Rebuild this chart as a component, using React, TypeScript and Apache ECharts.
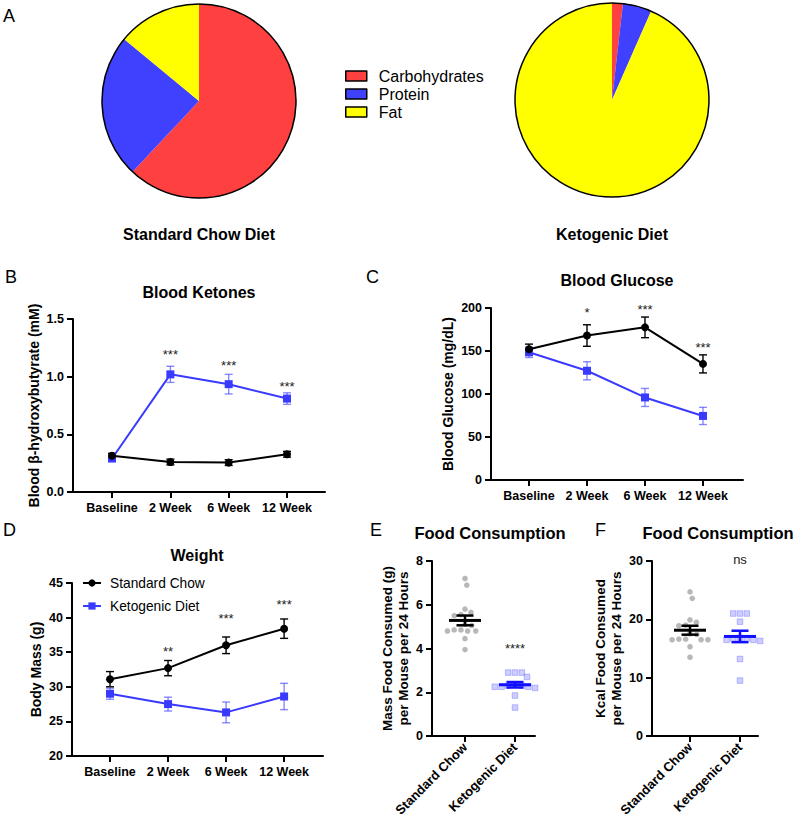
import React, { useEffect, useRef } from 'react';
import * as echarts from 'echarts';

// ---------- DATA ----------
const dietNames = ['Carbohydrates', 'Protein', 'Fat'];
const chowComposition = [62, 24, 14];
const ketoComposition = [1.8, 4.8, 93.4];

const timepoints = ['Baseline', '2 Week', '6 Week', '12 Week'];

const ketonesChowMean = [0.315, 0.26, 0.255, 0.327];
const ketonesChowSem = [0.02, 0.025, 0.025, 0.025];
const ketonesKetoMean = [0.29, 1.02, 0.935, 0.81];
const ketonesKetoSem = [0.02, 0.07, 0.085, 0.05];
const ketonesSig = ['', '***', '***', '***'];
const ketonesSigAt = [0, 1.22, 1.12, 0.945];

const glucoseChowMean = [152, 168, 177.5, 135];
const glucoseChowSem = [6, 12.5, 12, 10.5];
const glucoseKetoMean = [148.5, 127, 96, 74.5];
const glucoseKetoSem = [6, 10.5, 10.5, 10];
const glucoseSig = ['', '*', '***', '***'];
const glucoseSigAt = [0, 197.7, 202, 157];

const weightChowMean = [31.1, 32.7, 36.0, 38.4];
const weightChowSem = [1.1, 1.1, 1.2, 1.4];
const weightKetoMean = [29.0, 27.5, 26.3, 28.6];
const weightKetoSem = [0.8, 1.0, 1.5, 1.9];
const weightSig = ['', '**', '***', '***'];
const weightSigAt = [0, 35.5, 40.3, 42.3];

const dietGroups = ['Standard Chow', 'Ketogenic Diet'];
const massChow = [7.2, 6.9, 5.8, 5.65, 5.55, 5.5, 5.1, 5.05, 4.85, 4.8, 4.8, 4.8, 4.85, 4.45, 3.95];
const massKeto = [2.9, 2.9, 2.9, 2.7, 2.35, 2.3, 2.3, 2.25, 2.25, 2.25, 2.2, 1.85, 1.3];
const massSig = ['', '****'];
const massSigAt = [0, 4.16];
const kcalChow = [24.7, 23.6, 19.9, 19.5, 19.0, 18.9, 17.5, 17.4, 16.6, 16.5, 16.5, 16.5, 16.6, 15.3, 13.5];
const kcalKeto = [21.0, 21.0, 21.0, 19.6, 16.8, 16.7, 16.7, 16.5, 16.5, 16.3, 13.2, 9.5];
const kcalSig = ['', 'ns'];
const kcalSigAt = [0, 30.3];

// ---------- STYLE ----------
const FONT = "'Liberation Sans', Arial, Helvetica, sans-serif";
const BLUE = '#3a3aff';
const BLUE_ERR = 'rgba(58,58,255,0.6)';
const pieColors = ['#ff4040', '#4040ff', '#ffff00'];

const mean = (a: number[]) => a.reduce((s, v) => s + v, 0) / a.length;
const sem = (a: number[]) => {
  const m = mean(a);
  const v = a.reduce((s, x) => s + (x - m) * (x - m), 0) / (a.length - 1);
  return Math.sqrt(v) / Math.sqrt(a.length);
};

function swarm(ys: number[], cx: number, d: number): number[] {
  const order = ys.map((_, i) => i).sort((a, b) => ys[a] - ys[b]);
  const xs: number[] = new Array(ys.length);
  const placed: number[] = [];
  for (const i of order) {
    const y = ys[i];
    const near = placed.filter((j) => Math.abs(ys[j] - y) < d);
    const cands = [cx];
    near.forEach((j) => {
      const dx = Math.sqrt(d * d - (ys[j] - y) * (ys[j] - y));
      cands.push(xs[j] + dx, xs[j] - dx);
    });
    cands.sort((a, b) => Math.abs(a - cx) - Math.abs(b - cx));
    const ok = cands.find((c) => near.every((j) => (xs[j] - c) ** 2 + (ys[j] - y) ** 2 >= d * d - 0.01));
    xs[i] = ok === undefined ? cx : ok;
    placed.push(i);
  }
  return xs;
}

function xAxisCfg(grid: number, min: number, max: number, labels: string[], rotate = 0, fontSize = 12.5) {
  const vals = labels.map((_, i) => i);
  return {
    type: 'value', gridIndex: grid, min, max,
    axisLine: { show: true, onZero: false, lineStyle: { color: '#000', width: 2 } },
    axisTick: { show: true, customValues: vals, length: 6, lineStyle: { color: '#000', width: 2 } },
    axisLabel: {
      show: true, customValues: vals, formatter: (v: number) => labels[Math.round(v)] ?? '',
      color: '#000', fontWeight: 'bold', fontSize, fontFamily: FONT, margin: 9, rotate,
    },
    splitLine: { show: false },
  };
}

function yAxisCfg(grid: number, min: number, max: number, interval: number, name: string, nameGap: number, nameSize: number, decimals = 0) {
  return {
    type: 'value', gridIndex: grid, min, max, interval,
    axisLine: { show: true, onZero: false, lineStyle: { color: '#000', width: 2 } },
    axisTick: { show: true, length: 6, lineStyle: { color: '#000', width: 2 } },
    axisLabel: { color: '#000', fontWeight: 'bold', fontSize: 12.5, fontFamily: FONT, margin: 9, formatter: (v: number) => v.toFixed(decimals) },
    splitLine: { show: false },
    name, nameLocation: 'middle', nameRotate: 90, nameGap,
    nameTextStyle: { color: '#000', fontWeight: 'bold', fontSize: nameSize, fontFamily: FONT, lineHeight: nameSize + 3 },
  };
}

function lineSeries(grid: number, name: string, means: number[], color: string, symbol: string) {
  return {
    type: 'line', name, xAxisIndex: grid, yAxisIndex: grid,
    data: means.map((m, i) => [i, m]), symbol, symbolSize: 8,
    lineStyle: { color, width: 2 }, itemStyle: { color }, z: 4, silent: true,
  };
}

function errSeries(grid: number, tag: string, means: number[], sems: number[], color: string) {
  return {
    type: 'custom', name: tag, xAxisIndex: grid, yAxisIndex: grid, silent: true, z: 3,
    data: means.map((m, i) => [i, m, sems[i]]),
    encode: { x: 0, y: 1 },
    renderItem: (_p: any, api: any) => {
      const x = api.value(0), m = api.value(1), e = api.value(2);
      const t = api.coord([x, m + e]);
      const b = api.coord([x, m - e]);
      const hw = 4;
      const style = { stroke: color, lineWidth: 1.4 };
      return {
        type: 'group', children: [
          { type: 'line', shape: { x1: t[0], y1: t[1], x2: b[0], y2: b[1] }, style },
          { type: 'line', shape: { x1: t[0] - hw, y1: t[1], x2: t[0] + hw, y2: t[1] }, style },
          { type: 'line', shape: { x1: b[0] - hw, y1: b[1], x2: b[0] + hw, y2: b[1] }, style },
        ],
      };
    },
  };
}

function sigSeries(grid: number, tag: string, labels: string[], at: number[]) {
  const items = labels.map((s, i) => ({ s, i, v: at[i] })).filter((o) => o.s);
  return {
    type: 'custom', name: tag, xAxisIndex: grid, yAxisIndex: grid, silent: true, z: 5,
    data: items.map((o) => [o.i, o.v]),
    encode: { x: 0, y: 1 },
    renderItem: (p: any, api: any) => {
      const c = api.coord([api.value(0), api.value(1)]);
      const s = items[p.dataIndex].s;
      const isStar = s.indexOf('*') >= 0;
      return {
        type: 'text', x: c[0], y: c[1] + (isStar ? 3 : 0),
        style: { text: s, fontSize: 13, fontFamily: FONT, fill: '#222', align: 'center', verticalAlign: 'middle' },
      };
    },
  };
}

function dotSeries(grid: number, tag: string, gi: number, values: number[], kind: string, color: string) {
  const m = mean(values);
  const s = sem(values);
  return {
    type: 'custom', name: tag, xAxisIndex: grid, yAxisIndex: grid, silent: true, z: 4,
    data: [[gi, m, s]],
    encode: { x: 0, y: 1 },
    renderItem: (_p: any, api: any) => {
      const cx = api.coord([gi, m])[0];
      const ys = values.map((v) => api.coord([gi, v])[1]);
      const xs = swarm(ys, cx, 6.8);
      const children: any[] = [];
      values.forEach((_v, i) => {
        if (kind === 'circle') {
          children.push({ type: 'circle', shape: { cx: xs[i], cy: ys[i], r: 2.8 }, style: { fill: 'rgba(160,160,160,0.75)' } });
        } else {
          children.push({
            type: 'rect', shape: { x: xs[i] - 2.8, y: ys[i] - 2.8, width: 5.6, height: 5.6 },
            style: { fill: 'rgba(90,90,255,0.3)', stroke: 'rgba(90,90,255,0.45)', lineWidth: 0.8 },
          });
        }
      });
      const ym = api.coord([gi, m])[1];
      const yt = api.coord([gi, m + s])[1];
      const yb = api.coord([gi, m - s])[1];
      const ln = (x1: number, y1: number, x2: number, y2: number, w: number) => ({
        type: 'line', shape: { x1, y1, x2, y2 }, style: { stroke: color, lineWidth: w },
      });
      children.push(ln(cx - 16, ym, cx + 16, ym, 3));
      children.push(ln(cx, yt, cx, yb, 2.5));
      children.push(ln(cx - 8.5, yt, cx + 8.5, yt, 2.5));
      children.push(ln(cx - 8.5, yb, cx + 8.5, yb, 2.5));
      return { type: 'group', children };
    },
  };
}

function pieSeries(center: number[], values: number[]) {
  return {
    type: 'pie', center, radius: 97, startAngle: 90, clockwise: true, silent: true,
    label: { show: false }, labelLine: { show: false },
    itemStyle: { borderWidth: 0 },
    data: dietNames.map((n, i) => ({ name: n, value: values[i], itemStyle: { color: pieColors[i] } })),
  };
}

function pieOutline(center: number[]) {
  return {
    type: 'pie', center, radius: 97, silent: true, z: 3,
    label: { show: false }, labelLine: { show: false },
    data: [{ name: '_outline', value: 1, itemStyle: { color: 'rgba(0,0,0,0)', borderColor: '#000', borderWidth: 1.5 } }],
  };
}

const txt = (text: string, x: number, y: number, size: number, bold: boolean, align = 'left') => ({
  type: 'text', x, y,
  style: { text, fontSize: size, fontWeight: bold ? 'bold' : 'normal', fontFamily: FONT, fill: '#000', align, verticalAlign: 'middle' },
});

export default function App() {
  const ref = useRef<HTMLDivElement>(null);
  useEffect(() => {
    if (!ref.current) return;
    const chart = echarts.init(ref.current, null, { renderer: 'svg' });
    const option: any = {
      animation: false,
      backgroundColor: '#fff',
      textStyle: { fontFamily: FONT },
      legend: [
        {
          data: dietNames, left: 340, top: 63, orient: 'vertical', itemWidth: 21, itemHeight: 10, itemGap: 2,
          icon: 'rect', selectedMode: false,
          itemStyle: { borderColor: '#000', borderWidth: 1.5 },
          textStyle: { fontSize: 16, color: '#000', fontFamily: FONT, padding: [0, 0, 0, 7] },
        },
        {
          data: ['Standard Chow', 'Ketogenic Diet'], left: 77, top: 571, orient: 'vertical',
          itemWidth: 18, itemHeight: 9, itemGap: 9, selectedMode: false,
          textStyle: { fontSize: 13.75, color: '#000', fontFamily: FONT, padding: [0, 0, 0, 4] },
        },
      ],
      grid: [
        { left: 73, top: 319, width: 252, height: 173, containLabel: false },
        { left: 491, top: 308, width: 252, height: 172, containLabel: false },
        { left: 72, top: 583, width: 251, height: 173, containLabel: false },
        { left: 432, top: 561, width: 103, height: 175, containLabel: false },
        { left: 652, top: 561, width: 106, height: 175, containLabel: false },
      ],
      xAxis: [
        xAxisCfg(0, -0.669, 3.651, timepoints),
        xAxisCfg(1, -0.655, 3.69, timepoints),
        xAxisCfg(2, -0.655, 3.67, timepoints),
        xAxisCfg(3, -0.66, 1.4, dietGroups, 45, 13),
        xAxisCfg(4, -0.76, 1.36, dietGroups, 45, 13),
      ],
      yAxis: [
        yAxisCfg(0, 0, 1.5, 0.5, 'Blood β-hydroxybutyrate (mM)', 30, 14, 1),
        yAxisCfg(1, 0, 200, 50, 'Blood Glucose (mg/dL)', 35, 14),
        yAxisCfg(2, 20, 45, 5, 'Body Mass (g)', 28, 14),
        yAxisCfg(3, 0, 8, 2, 'Mass Food Consumed (g)\nper Mouse per 24 Hours', 12, 13.5),
        yAxisCfg(4, 0, 30, 10, 'Kcal Food Consumed\nper Mouse per 24 Hours', 25, 13.5),
      ],
      graphic: [
        txt('A', 3, 16, 18, false),
        txt('B', 5, 277, 18, false),
        txt('C', 366, 277, 18, false),
        txt('D', 3, 530, 18, false),
        txt('E', 370, 530, 18, false),
        txt('F', 595, 530, 18, false),
        txt('Standard Chow Diet', 199, 234, 16, true, 'center'),
        txt('Ketogenic Diet', 612, 234, 16, true, 'center'),
        txt('Blood Ketones', 199, 292, 16, true, 'center'),
        txt('Blood Glucose', 617, 280, 16, true, 'center'),
        txt('Weight', 197, 555, 16, true, 'center'),
        txt('Food Consumption', 490, 533, 16.5, true, 'center'),
        txt('Food Consumption', 718, 533, 16.5, true, 'center'),
      ],
      series: [
        pieSeries([199, 101], chowComposition),
        pieOutline([199, 101]),
        pieSeries([612, 100], ketoComposition),
        pieOutline([612, 100]),
        // B
        errSeries(0, 'errB1', ketonesKetoMean, ketonesKetoSem, BLUE_ERR),
        errSeries(0, 'errB0', ketonesChowMean, ketonesChowSem, '#000'),
        lineSeries(0, 'Ketogenic Diet', ketonesKetoMean, BLUE, 'rect'),
        lineSeries(0, 'Standard Chow', ketonesChowMean, '#000', 'circle'),
        sigSeries(0, 'sigB', ketonesSig, ketonesSigAt),
        // C
        errSeries(1, 'errC1', glucoseKetoMean, glucoseKetoSem, BLUE_ERR),
        errSeries(1, 'errC0', glucoseChowMean, glucoseChowSem, '#000'),
        lineSeries(1, 'Ketogenic Diet', glucoseKetoMean, BLUE, 'rect'),
        lineSeries(1, 'Standard Chow', glucoseChowMean, '#000', 'circle'),
        sigSeries(1, 'sigC', glucoseSig, glucoseSigAt),
        // D
        errSeries(2, 'errD1', weightKetoMean, weightKetoSem, BLUE_ERR),
        errSeries(2, 'errD0', weightChowMean, weightChowSem, '#000'),
        lineSeries(2, 'Ketogenic Diet', weightKetoMean, BLUE, 'rect'),
        lineSeries(2, 'Standard Chow', weightChowMean, '#000', 'circle'),
        sigSeries(2, 'sigD', weightSig, weightSigAt),
        // E
        dotSeries(3, 'dotE0', 0, massChow, 'circle', '#000'),
        dotSeries(3, 'dotE1', 1, massKeto, 'square', '#1010ff'),
        sigSeries(3, 'sigE', massSig, massSigAt),
        // F
        dotSeries(4, 'dotF0', 0, kcalChow, 'circle', '#000'),
        dotSeries(4, 'dotF1', 1, kcalKeto, 'square', '#1010ff'),
        sigSeries(4, 'sigF', kcalSig, kcalSigAt),
      ],
    };
    chart.setOption(option);
    return () => chart.dispose();
  }, []);
  return <div ref={ref} style={{ position: 'absolute', left: 0, top: 0, width: 795, height: 825, background: '#fff' }} />;
}
